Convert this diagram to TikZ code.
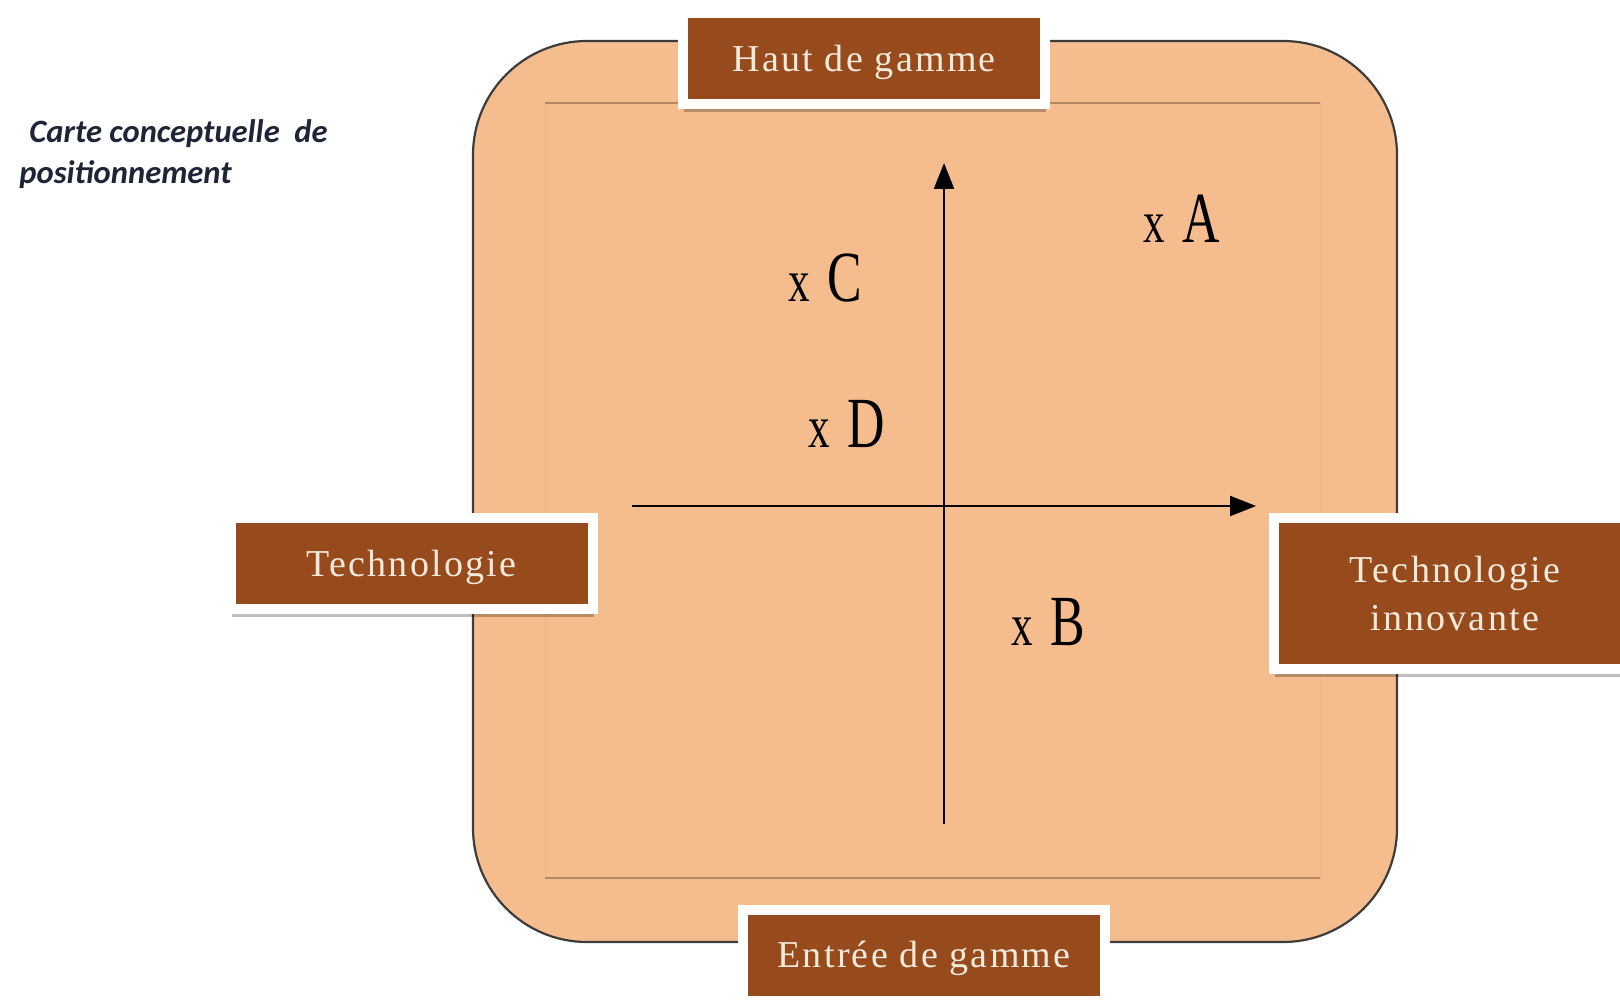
\documentclass[tikz,border=0pt]{standalone}
\usepackage{fontspec}
\usepackage{graphicx}
\usetikzlibrary{arrows.meta,shadows,positioning}
\newfontfamily\boxfont[LetterSpace=6]{Liberation Serif}
\newfontfamily\titlefont{Carlito}
\newfontfamily\markfont{Liberation Serif}
\definecolor{CardFill}{HTML}{F5BD8D}
\definecolor{CardEdge}{HTML}{3C3C3C}
\definecolor{InnerLine}{HTML}{B38866}
\definecolor{InnerFaint}{HTML}{EDB586}
\definecolor{BoxBrown}{HTML}{974A1C}
\definecolor{BoxText}{HTML}{F4EADC}
\definecolor{TitleText}{HTML}{1E2536}

% brand position: small x, then the letter
\newcommand{\brandmark}[1]{\scalebox{0.72}[1]{{\fontsize{30}{30}\selectfont x}\hspace{12pt}{\fontsize{36}{36}\selectfont #1}}}

\begin{document}
\begin{tikzpicture}[
	x=0.5pt, y=-0.5pt, % one unit is one pixel of the reference
	% Style for the rounded map background
	card/.style={
		fill=CardFill,
		draw=CardEdge,
		line width=1.1pt,
		rounded corners=57pt
	},
	% Styles for the axes
	axis/.style={
		draw=black,
		line width=1.2pt,
		-{Triangle[length=13pt,width=10pt]}
	},
	% Style for the brown labels on the card edges
	pole/.style={
		rectangle,
		fill=BoxBrown,
		draw=white,
		line width=5pt,
		text=BoxText,
		minimum width=181pt,
		minimum height=45.5pt,
		align=center,
		font=\boxfont\fontsize{19}{24}\selectfont,
		drop shadow={shadow xshift=0.5pt, shadow yshift=-4pt, opacity=0.25, fill=black}
	},
	oneline/.style={
		text height=12.5pt,
		text depth=0pt
	},
	% Style for the brands placed on the map
	brand/.style={
		anchor=base,
		inner sep=0pt,
		font=\markfont
	},
	title/.style={
		anchor=base west,
		inner sep=0pt,
		text=TitleText,
		font=\titlefont\bfseries\itshape\fontsize{16.3}{20}\selectfont
	}
	]
	\useasboundingbox (0,0) rectangle (1620,1005);
	
	% ================= CARD =================
	\draw[card] (473,41) rectangle (1397,942);
	\draw[InnerFaint, line width=0.5pt] (545,103) rectangle (1320,878);
	\draw[InnerLine, line width=0.6pt] (545,103) -- (1320,103);
	\draw[InnerLine, line width=0.6pt] (545,878) -- (1320,878);
	
	% ================= AXES =================
	\coordinate (ybot)   at (944, 824);
	\coordinate (ytop)   at (944, 163);
	\coordinate (xleft)  at (632, 506);
	\coordinate (xright) at (1256, 506);
	\draw[axis] (ybot) -- (ytop);
	\draw[axis] (xleft) -- (xright);
	
	% ================= BRANDS =================
	\node[brand] (A) at (1182, 243) {\brandmark{A}};
	\node[brand] (C) at (825, 302)  {\brandmark{C}};
	\node[brand] (D) at (847, 447)  {\brandmark{D}};
	\node[brand] (B) at (1048, 645) {\brandmark{B}};
	
	% ================= POLES =================
	\node[pole, oneline] (hdg)    at (864, 59)      {Haut de gamme};
	\node[pole, oneline] (edg)    at (924, 955)     {Entr\'ee de gamme};
	\node[pole, oneline] (techno) at (411.5, 563.5) {Technologie};
	\node[pole, minimum height=75.5pt] (innov) at (1455, 593.5) {Technologie\\innovante};
	
	% ================= TITLE =================
	\node[title] (title1) at (29, 143) {Carte conceptuelle\ \ de};
	\node[title] (title2) at (19, 184) {positionnement};
	
\end{tikzpicture}
\end{document}
